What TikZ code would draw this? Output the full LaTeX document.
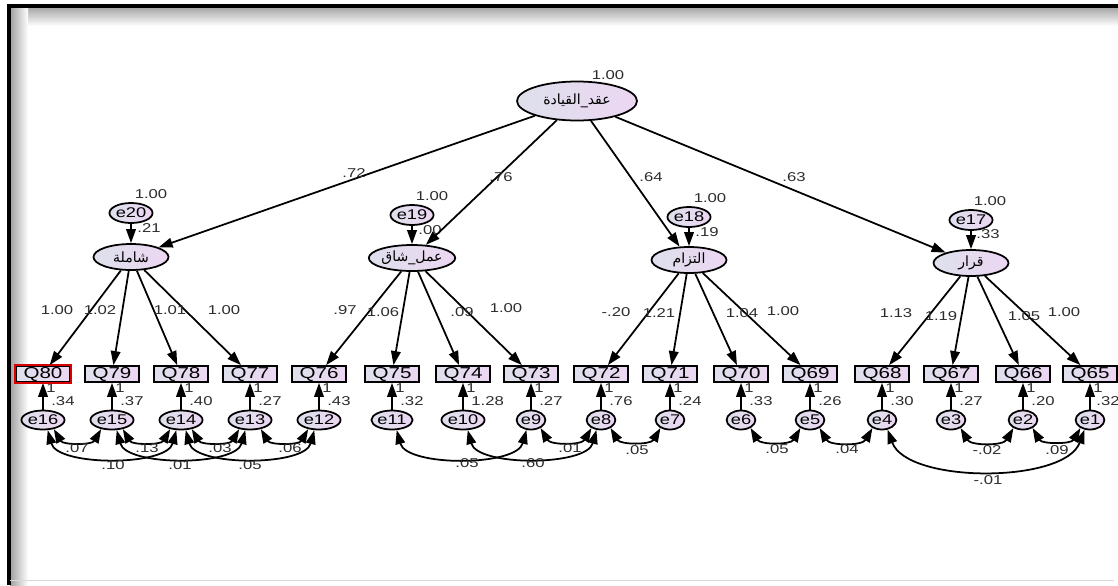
\documentclass[tikz,border=0pt]{standalone}
\usepackage{fontspec}
\setmainfont[FakeStretch=1.3]{Liberation Sans}
\newfontfamily\arabicfont[Script=Arabic]{DejaVu Sans}
\TeXXeTstate=1
\usetikzlibrary{shapes.geometric,arrows.meta}
\definecolor{lavL}{RGB}{222,224,236}
\definecolor{lavR}{RGB}{236,214,242}
\definecolor{lblc}{RGB}{45,45,45}
\tikzset{
  topvar/.style={ellipse, draw, line width=1pt, left color=lavL, right color=lavR, inner sep=0pt, minimum width=2.4cm, minimum height=0.78cm, font=\fontsize{8}{9}\selectfont},
  lat/.style={ellipse, draw, line width=1pt, left color=lavL, right color=lavR, inner sep=0pt, minimum width=1.5cm, minimum height=0.52cm, font=\fontsize{8}{9}\selectfont},
  err/.style={ellipse, draw, line width=1pt, left color=lavL, right color=lavR, inner sep=0pt, minimum width=0.56cm, minimum height=0.38cm, font=\fontsize{8}{9}\selectfont},
  derr/.style={ellipse, draw, line width=1pt, left color=lavL, right color=lavR, inner sep=0pt, minimum width=0.44cm, minimum height=0.4cm, font=\fontsize{8}{9}\selectfont},
  obs/.style={rectangle, draw, line width=1pt, left color=lavL, right color=lavR, minimum width=1.08cm, minimum height=0.32cm, inner sep=0pt, font=\fontsize{9}{10}\selectfont},
  lbl/.style={font=\fontsize{7.3}{8}\selectfont, text=lblc, inner sep=0pt},
  pth/.style={line width=1pt, -{Triangle[length=8pt,width=5.5pt]}},
  cov/.style={line width=1pt, {Triangle[length=8pt,width=5.5pt]}-{Triangle[length=8pt,width=5.5pt]}}
}
\begin{document}
\begin{tikzpicture}[x=0.02cm,y=-0.02cm]
\useasboundingbox (0,0) rectangle (1118,585);
\fill[white] (0,0) rectangle (1118,585);
% frame shadow
\shade[top color=gray!75, bottom color=white] (10,6) rectangle (1118,26);
\shade[left color=gray!75, right color=white] (10,6) rectangle (28,585);
\fill[white] (28,26) rectangle (1118,585);
\draw[line width=1.8pt] (9,585) -- (9,6) -- (1118,6);
\draw[gray!30, line width=0.5pt] (10,580) -- (1114,580);

% top latent
\node[topvar] (L) at (577,101) {\arabicfont\beginR عقد\_القيادة\endR};
\node[lbl] (vL) at (608,75) {1.00};

% second-level latents
\node[lat] (F1) at (131,257) {\arabicfont\beginR شاملة\endR};
\node[lat] (F2) at (412,258) {\arabicfont\beginR عمل\_شاق\endR};
\node[lat] (F3) at (689,260) {\arabicfont\beginR التزام\endR};
\node[lat] (F4) at (971,263) {\arabicfont\beginR قرار\endR};

% disturbances
\node[derr] (e20) at (131,213) {e20};
\node[derr] (e19) at (412,215) {e19};
\node[derr] (e18) at (689,217) {e18};
\node[derr] (e17) at (971,220) {e17};
\draw[pth] (e20) -- (F1);
\draw[pth] (e19) -- (F2);
\draw[pth] (e18) -- (F3);
\draw[pth] (e17) -- (F4);
\node[lbl] at (151,194) {1.00};
\node[lbl] at (432,196) {1.00};
\node[lbl] at (710,198) {1.00};
\node[lbl] at (990,201) {1.00};
\node[lbl] at (149,228) {.21};
\node[lbl] at (430,230) {.00};
\node[lbl] at (707,232) {.19};
\node[lbl] at (988,234) {.33};

% second-order paths
\draw[pth] (L) -- (F1);
\draw[pth] (L) -- (F2);
\draw[pth] (L) -- (F3);
\draw[pth] (L) -- (F4);
\node[lbl] at (354,173) {.72};
\node[lbl] at (501,177) {.76};
\node[lbl] at (651,177) {.64};
\node[lbl] at (794,177) {.63};

% observed + errors
\foreach \q/\e/\x/\v/\dx in {80/16/43/.34/8, 79/15/112/.37/8, 78/14/181/.40/8, 77/13/250/.27/8, 76/12/319/.43/8, 75/11/392/.32/8, 74/10/463/1.28/8, 73/9/531/.27/8, 72/8/601/.76/8, 71/7/670/.24/8, 70/6/741/.33/8, 69/5/810/.26/8, 68/4/882/.30/8, 67/3/951/.27/8, 66/2/1023/.20/8, 65/1/1090/.32/6} {
  \node[obs] (Q\q) at (\x,374) {Q\q};
  \node[err] (e\e) at (\x,420) {e\e};
  \draw[pth] (e\e) -- (Q\q);
  \node[lbl, anchor=west] at (\x+3,388) {1};
  \node[lbl, anchor=west] at (\x+\dx,401) {\v};
}
\draw[red!85!black, line width=1pt] (Q80.south west) rectangle (Q80.north east);

% loadings
\foreach \f/\q in {F1/80, F1/79, F1/78, F1/77, F2/76, F2/75, F2/74, F2/73, F3/72, F3/71, F3/70, F3/69, F4/68, F4/67, F4/66, F4/65} {
  \draw[pth] (\f) -- (Q\q);
}
\node[lbl] at (57,310) {1.00};
\node[lbl] at (100,310) {1.02};
\node[lbl] at (170,310) {1.01};
\node[lbl] at (224,310) {1.00};
\node[lbl] at (345,310) {.97};
\node[lbl] at (383,312) {1.06};
\node[lbl] at (462,312) {.09};
\node[lbl] at (506,308) {1.00};
\node[lbl] at (616,312) {-.20};
\node[lbl] at (659,313) {1.21};
\node[lbl] at (742,313) {1.04};
\node[lbl] at (783,311) {1.00};
\node[lbl] at (896,313) {1.13};
\node[lbl] at (941,316) {1.19};
\node[lbl] at (1024,316) {1.05};
\node[lbl] at (1064,312) {1.00};

% covariances: short
\foreach \a/\b in {16/15, 15/14, 14/13, 13/12, 9/8, 8/7, 6/5, 5/4, 3/2, 2/1} {
  \draw[cov] (e\a.-40) to[out=-60,in=-120] (e\b.-140);
}
% covariances: long
\foreach \a/\b in {16/14, 15/13, 14/12, 11/9, 10/8} {
  \draw[cov] (e\a.-65) to[out=-75,in=-105,looseness=0.75] (e\b.-115);
}
\draw[cov] (e4.-60) to[out=-70,in=-110,looseness=0.75] (e1.-120);

\node[lbl] at (77,448) {.07};
\node[lbl] at (147,448) {.13};
\node[lbl] at (220,448) {.03};
\node[lbl] at (290,448) {.06};
\node[lbl] at (113,465) {.10};
\node[lbl] at (180,465) {.01};
\node[lbl] at (250,465) {.05};
\node[lbl] at (467,463) {.05};
\node[lbl] at (533,463) {.60};
\node[lbl] at (570,448) {.01};
\node[lbl] at (637,450) {.05};
\node[lbl] at (777,449) {.05};
\node[lbl] at (847,449) {.04};
\node[lbl] at (987,450) {-.02};
\node[lbl] at (1057,450) {.09};
\node[lbl] at (988,480) {-.01};
\end{tikzpicture}
\end{document}
